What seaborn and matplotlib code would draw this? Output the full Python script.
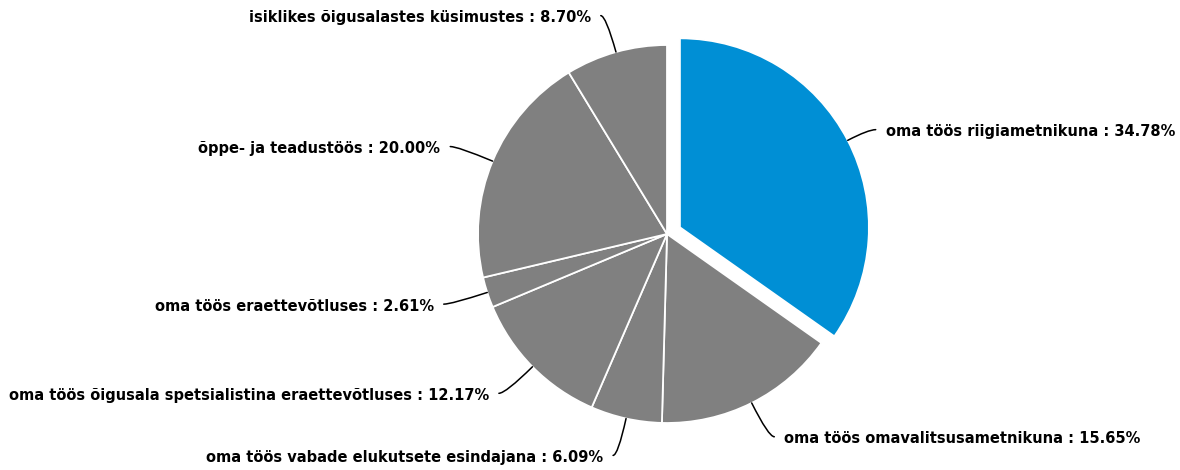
import numpy as np
import matplotlib
matplotlib.use("Agg")
import matplotlib.pyplot as plt
import seaborn as sns

sns.set_theme(style="white")
plt.rcParams['font.family'] = ['DejaVu Sans']

categories = [
    "oma töös riigiametnikuna",
    "oma töös omavalitsusametnikuna",
    "oma töös vabade elukutsete esindajana",
    "oma töös õigusala spetsialistina eraettevõtluses",
    "oma töös eraettevõtluses",
    "õppe- ja teadustöös",
    "isiklikes õigusalastes küsimustes",
]
values = [34.78, 15.65, 6.09, 12.17, 2.61, 20.00, 8.70]
colors = ["#008FD5"] + ["#808080"] * 6
explode_frac = [0.077, 0, 0, 0, 0, 0, 0]

W, H = 1180, 470
fig = plt.figure(figsize=(W / 100, H / 100), dpi=100)
ax = fig.add_axes([0, 0, 1, 1])

cx, cy, R = 667, H - 234, 189
wedges, _ = ax.pie(values, colors=colors, startangle=90, counterclock=False,
                   explode=[e * R for e in explode_frac], radius=R, center=(cx, cy),
                   wedgeprops=dict(edgecolor="white", linewidth=1.3))
ax.set_xlim(0, W)
ax.set_ylim(0, H)
ax.set_aspect("auto")
ax.axis("off")

for w, cat, v in zip(wedges, categories, values):
    mid = np.deg2rad((w.theta1 + w.theta2) / 2)
    ox, oy = w.center
    sx, sy = ox + R * np.cos(mid), oy + R * np.sin(mid)
    right = np.cos(mid) >= 0
    sgn = 1 if right else -1
    ex_ = cx + 1.22 * R * np.cos(mid) + 4 * sgn
    ey_ = cy + 1.2 * R * np.sin(mid)
    ax.annotate("", xy=(sx, sy), xytext=(ex_, ey_),
                arrowprops=dict(arrowstyle="-", color="black", lw=1.1,
                                shrinkA=0, shrinkB=0,
                                connectionstyle=f"angle3,angleA=0,angleB={np.rad2deg(mid):.1f}"))
    ax.text(ex_ + 10 * sgn, ey_ - 2, f"{cat} : {v:.2f}%", ha="left" if right else "right",
            va="center", fontsize=10.5, fontweight="bold", color="black")

fig.savefig("out.png", dpi=100)
